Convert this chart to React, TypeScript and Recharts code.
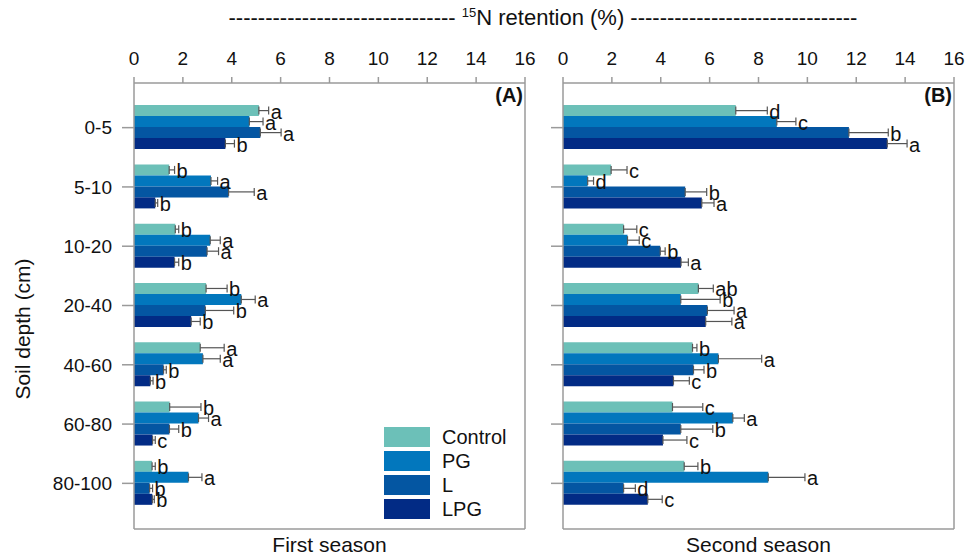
import { BarChart, Bar, XAxis, YAxis, ErrorBar, LabelList, Legend } from "recharts";

const depths = ["0-5", "5-10", "10-20", "20-40", "40-60", "60-80", "80-100"];
const seriesNames = ["Control", "PG", "L", "LPG"];
const seriesColors = ["#6cc0b8", "#0277bd", "#0456a2", "#022b85"];
const xTicks = [0, 2, 4, 6, 8, 10, 12, 14, 16];

// first season (A)
const firstControl = [5.11, 1.44, 1.69, 2.95, 2.71, 1.46, 0.74];
const firstPG = [4.72, 3.15, 3.12, 4.39, 2.82, 2.64, 2.23];
const firstL = [5.17, 3.87, 2.99, 2.92, 1.21, 1.45, 0.64];
const firstLPG = [3.74, 0.87, 1.66, 2.34, 0.67, 0.76, 0.75];
const firstControlErr = [0.4, 0.22, 0.14, 0.86, 0.98, 1.28, 0.13];
const firstPGErr = [0.56, 0.27, 0.41, 0.57, 0.71, 0.41, 0.55];
const firstLErr = [0.85, 1.05, 0.47, 1.16, 0.11, 0.38, 0.12];
const firstLPGErr = [0.37, 0.1, 0.17, 0.37, 0.11, 0.11, 0.08];
const firstControlSig = ["a", "b", "b", "b", "a", "b", "b"];
const firstPGSig = ["a", "a", "a", "a", "a", "a", "a"];
const firstLSig = ["a", "a", "a", "b", "b", "b", "b"];
const firstLPGSig = ["b", "b", "b", "b", "b", "c", "b"];

// second season (B)
const secondControl = [7.07, 1.97, 2.48, 5.54, 5.3, 4.48, 4.96];
const secondPG = [8.75, 1.01, 2.64, 4.82, 6.36, 6.95, 8.4];
const secondL = [11.7, 5.0, 3.98, 5.91, 5.34, 4.82, 2.48];
const secondLPG = [13.27, 5.68, 4.83, 5.84, 4.52, 4.09, 3.47];
const secondControlErr = [1.29, 0.65, 0.54, 0.61, 0.18, 1.24, 0.56];
const secondPGErr = [0.78, 0.24, 0.48, 1.61, 1.77, 0.47, 1.5];
const secondLErr = [1.61, 0.88, 0.2, 1.09, 0.43, 1.31, 0.48];
const secondLPGErr = [0.81, 0.5, 0.3, 1.07, 0.65, 0.98, 0.59];
const secondControlSig = ["d", "c", "c", "ab", "b", "c", "b"];
const secondPGSig = ["c", "d", "c", "b", "a", "a", "a"];
const secondLSig = ["b", "b", "b", "a", "b", "b", "d"];
const secondLPGSig = ["a", "a", "a", "a", "c", "c", "c"];

const FONT = "'Liberation Sans', Arial, sans-serif";
const AXIS = "#9a9a9a";

type PanelProps = {
  left: number;
  width: number;
  yWidth: number;
  marginRight: number;
  values: number[][];
  errors: number[][];
  sigs: string[][];
  tag: string;
  season: string;
  first?: boolean;
};

function sigLabel(errs: number[], sigs: string[]) {
  return (props: any) => {
    const { x, y, width, height, value, index } = props;
    if (!value) return null;
    const end = x + width + errs[index] * (width / value);
    return (
      <text
        x={end + 2}
        y={y + height / 2 + 1}
        dominantBaseline="central"
        fontSize={20}
        fontFamily={FONT}
        fill="#111"
      >
        {sigs[index]}
      </text>
    );
  };
}

function legendContent(props: any) {
  const items = [...(props.payload || [])].sort(
    (a: any, b: any) => seriesNames.indexOf(a.value) - seriesNames.indexOf(b.value)
  );
  return (
    <div style={{ fontFamily: FONT }}>
      {items.map((p: any) => (
        <div key={p.value} style={{ display: "flex", alignItems: "center", height: 24 }}>
          <div style={{ width: 46, height: 19.5, background: p.color }} />
          <span style={{ marginLeft: 12, fontSize: 20, color: "#111" }}>{p.value}</span>
        </div>
      ))}
    </div>
  );
}

function Panel(p: PanelProps) {
  const rows = depths.map((d, i) => {
    const row: any = { depth: d };
    seriesNames.forEach((s, k) => {
      row[s] = p.values[k][i];
      row[s + "Err"] = [0, p.errors[k][i]];
    });
    return row;
  });

  return (
    <div style={{ position: "absolute", left: p.left, top: 0, width: p.width, height: 557 }}>
      <BarChart
        width={p.width}
        height={557}
        data={rows}
        layout="vertical"
        margin={{ top: 43, right: p.marginRight, bottom: 0, left: 0 }}
        barCategoryGap="12%"
        barGap={0}
      >
        <XAxis
          type="number"
          orientation="top"
          domain={[0, 16]}
          ticks={xTicks}
          height={40}
          tickSize={6}
          tickMargin={12}
          stroke={AXIS}
          strokeWidth={1.5}
          tick={{ fontSize: 19, fill: "#111", fontFamily: FONT }}
        />
        <XAxis
          xAxisId="frame"
          type="number"
          orientation="bottom"
          domain={[0, 16]}
          height={28}
          tick={false}
          tickLine={false}
          stroke={AXIS}
          strokeWidth={1.5}
          label={{
            value: p.season,
            position: "insideBottom",
            offset: 5,
            fontSize: 21,
            fill: "#111",
            fontFamily: FONT,
          }}
        />
        <YAxis
          type="category"
          dataKey="depth"
          width={p.yWidth}
          tickSize={12}
          tickMargin={10}
          padding={{ top: 15, bottom: 16 }}
          stroke={AXIS}
          strokeWidth={1.5}
          tickFormatter={p.first ? undefined : () => ""}
          tick={{ fontSize: 19, fill: "#111", fontFamily: FONT }}
          label={
            p.first
              ? {
                  content: (lp: any) => {
                    const vb = lp.viewBox;
                    const cx = 22;
                    const cy = vb.y + vb.height / 2 + 23;
                    return (
                      <text
                        x={cx}
                        y={cy}
                        transform={`rotate(-90, ${cx}, ${cy})`}
                        textAnchor="middle"
                        dominantBaseline="central"
                        fontSize={21}
                        fontFamily={FONT}
                        fill="#111"
                      >
                        Soil depth (cm)
                      </text>
                    );
                  },
                }
              : undefined
          }
        />
        <YAxis
          yAxisId="frame"
          type="category"
          dataKey="depth"
          orientation="right"
          width={1}
          tick={false}
          tickLine={false}
          stroke={AXIS}
          strokeWidth={1.5}
        />
        {seriesNames.map((s, k) => (
          <Bar
            key={s}
            dataKey={s}
            name={s}
            fill={seriesColors[k]}
            isAnimationActive={false}
          >
            <ErrorBar
              dataKey={s + "Err"}
              direction="x"
              width={4}
              stroke="#555"
              strokeWidth={1.2}
              isAnimationActive={false}
            />
            <LabelList dataKey={s} content={sigLabel(p.errors[k], p.sigs[k])} />
          </Bar>
        ))}
        {p.first && (
          <Legend
            layout="vertical"
            align="center"
            verticalAlign="middle"
            content={legendContent}
            wrapperStyle={{ left: 384, top: 425, width: 150 }}
          />
        )}
      </BarChart>
      <div
        style={{
          position: "absolute",
          right: p.marginRight + 3,
          top: 84,
          fontFamily: FONT,
          fontWeight: "bold",
          fontSize: 20,
          color: "#111",
        }}
      >
        {p.tag}
      </div>
    </div>
  );
}

export default function App() {
  const dashes = "-------------------------------";
  return (
    <div style={{ position: "absolute", left: 0, top: 0, width: 965, height: 557, background: "#fff" }}>
      <div
        style={{
          position: "absolute",
          left: 0,
          width: 1086,
          top: 5,
          textAlign: "center",
          fontFamily: FONT,
          fontSize: 22,
          color: "#111",
          whiteSpace: "nowrap",
        }}
      >
        {dashes} <sup style={{ fontSize: 13 }}>15</sup>N retention (%) {dashes}
      </div>
      <Panel
        left={0}
        width={545}
        yWidth={134}
        marginRight={19}
        values={[firstControl, firstPG, firstL, firstLPG]}
        errors={[firstControlErr, firstPGErr, firstLErr, firstLPGErr]}
        sigs={[firstControlSig, firstPGSig, firstLSig, firstLPGSig]}
        tag="(A)"
        season="First season"
        first
      />
      <Panel
        left={545}
        width={420}
        yWidth={18}
        marginRight={10}
        values={[secondControl, secondPG, secondL, secondLPG]}
        errors={[secondControlErr, secondPGErr, secondLErr, secondLPGErr]}
        sigs={[secondControlSig, secondPGSig, secondLSig, secondLPGSig]}
        tag="(B)"
        season="Second season"
      />
    </div>
  );
}
